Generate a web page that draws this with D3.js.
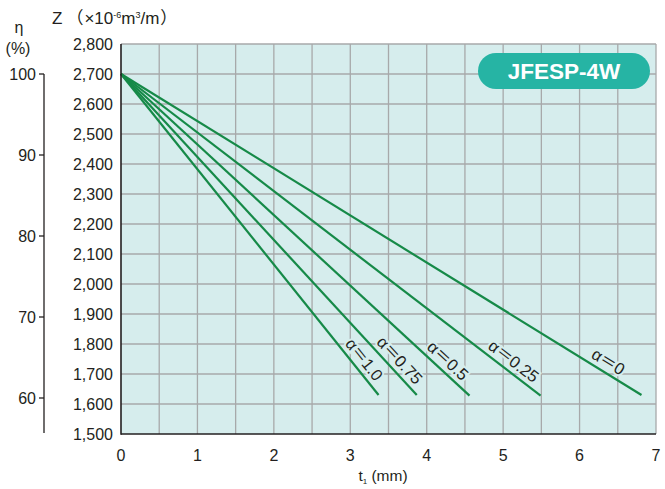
<!DOCTYPE html>
<html>
<head>
<meta charset="utf-8">
<script src="https://cdn.jsdelivr.net/npm/d3@7"></script>
<style>
  body { margin: 0; background: #fff; }
  text { font-family: "Liberation Sans", Arial, "Noto Sans CJK JP", sans-serif; fill: #231f20; }
</style>
</head>
<body>
<div id="chart"></div>
<script>
// curve data
const alphaLabels = ['α＝0', 'α＝0.25', 'α＝0.5', 'α＝0.75', 'α＝1.0'];
const tStart = [0, 0, 0, 0, 0];
const zStart = [2700, 2700, 2700, 2700, 2700];
const tEnd = [6.81, 5.49, 4.56, 3.87, 3.37];
const zEnd = [1630, 1628, 1628, 1630, 1630];
const labelT = [6.3, 5.05, 4.18, 3.54, 3.07];

const zTicks = d3.range(1500, 2801, 100);
const tTicks = [0, 1, 2, 3, 4, 5, 6, 7];
const etaTicks = [60, 70, 80, 90, 100];
const modelName = 'JFESP-4W';

const width = 665;
const height = 489;
const green = '#168a48';
const bg = '#d6eded';

const svg = d3.select('#chart')
  .append('svg')
  .attr('width', width)
  .attr('height', height);

const x = d3.scaleLinear().domain([0, 7]).range([121, 656]);
const y = d3.scaleLinear().domain([1500, 2800]).range([434, 44]);
// eta axis: 100% corresponds to Z = 2700
const yEta = d3.scaleLinear().domain([1500 / 27, 100]).range([434, y(2700)]);

// plot background
svg.append('rect')
  .attr('x', x(0))
  .attr('y', y(2800))
  .attr('width', x(7) - x(0))
  .attr('height', y(1500) - y(2800))
  .attr('fill', bg);

// grid
svg.append('g')
  .selectAll('line')
  .data(d3.range(0.5, 7.01, 0.5))
  .enter()
  .append('line')
  .attr('x1', d => x(d))
  .attr('x2', d => x(d))
  .attr('y1', y(2800))
  .attr('y2', y(1500))
  .attr('stroke', '#a7a9aa')
  .attr('stroke-width', 1.3);

svg.append('g')
  .selectAll('line')
  .data(zTicks.slice(1))
  .enter()
  .append('line')
  .attr('x1', x(0))
  .attr('x2', x(7))
  .attr('y1', d => y(d))
  .attr('y2', d => y(d))
  .attr('stroke', '#a7a9aa')
  .attr('stroke-width', 1.3);

// badge
const badge = svg.append('g');
badge.append('rect')
  .attr('x', 478)
  .attr('y', 53)
  .attr('width', 172)
  .attr('height', 36)
  .attr('rx', 18)
  .attr('fill', '#26b4a4');
badge.append('text')
  .attr('x', 564)
  .attr('y', 79)
  .attr('text-anchor', 'middle')
  .style('fill', '#fff')
  .style('font-weight', 'bold')
  .style('font-size', '22.5px')
  .text(modelName);

// lines
const lineGen = d3.line().x(d => x(d[0])).y(d => y(d[1]));
svg.append('g')
  .selectAll('path')
  .data(alphaLabels.map((a, i) => [[tStart[i], zStart[i]], [tEnd[i], zEnd[i]]]))
  .enter()
  .append('path')
  .attr('d', lineGen)
  .attr('fill', 'none')
  .attr('stroke', green)
  .attr('stroke-width', 2.2);

// rotated curve labels
alphaLabels.forEach((label, i) => {
  const x0 = x(tStart[i]);
  const y0 = y(zStart[i]);
  const x1 = x(tEnd[i]);
  const y1 = y(zEnd[i]);
  const ang = Math.atan2(y1 - y0, x1 - x0);
  const f = labelT[i] / tEnd[i];
  const px = x0 + (x1 - x0) * f;
  const py = y0 + (y1 - y0) * f;
  // shift to the upper-right side of the line
  const off = 11;
  const cx = px + Math.sin(ang) * off;
  const cy = py - Math.cos(ang) * off;
  svg.append('text')
    .attr('transform', `translate(${cx},${cy}) rotate(${ang * 180 / Math.PI})`)
    .attr('text-anchor', 'middle')
    .attr('dy', '0.35em')
    .style('font-size', '16.5px')
    .style('stroke', bg)
    .style('stroke-width', 4)
    .style('paint-order', 'stroke')
    .text(label);
});

// axes frame
svg.append('line')
  .attr('x1', x(0)).attr('x2', x(0))
  .attr('y1', y(2800)).attr('y2', y(1500) + 0.7)
  .attr('stroke', '#231f20').attr('stroke-width', 1.6);
svg.append('line')
  .attr('x1', x(0)).attr('x2', x(7))
  .attr('y1', y(1500)).attr('y2', y(1500))
  .attr('stroke', '#231f20').attr('stroke-width', 1.6);

// Z tick labels
svg.append('g')
  .selectAll('text')
  .data(zTicks)
  .enter()
  .append('text')
  .attr('x', 113)
  .attr('y', d => y(d))
  .attr('dy', '0.36em')
  .attr('text-anchor', 'end')
  .style('font-size', '16px')
  .text(d => d3.format(',')(d));

// t tick labels
svg.append('g')
  .selectAll('text')
  .data(tTicks)
  .enter()
  .append('text')
  .attr('x', d => x(d))
  .attr('y', 461)
  .attr('text-anchor', 'middle')
  .style('font-size', '16px')
  .text(d => d);

// eta axis
svg.append('line')
  .attr('x1', 44).attr('x2', 44)
  .attr('y1', yEta(100)).attr('y2', 433)
  .attr('stroke', '#231f20').attr('stroke-width', 1.3);
svg.append('g')
  .selectAll('line')
  .data(etaTicks)
  .enter()
  .append('line')
  .attr('x1', 39).attr('x2', 44)
  .attr('y1', d => yEta(d)).attr('y2', d => yEta(d))
  .attr('stroke', '#231f20').attr('stroke-width', 1.3);
svg.append('g')
  .selectAll('text')
  .data(etaTicks)
  .enter()
  .append('text')
  .attr('x', 36)
  .attr('y', d => yEta(d))
  .attr('dy', '0.36em')
  .attr('text-anchor', 'end')
  .style('font-size', '16px')
  .text(d => d);

// axis titles
const zTitle = svg.append('text')
  .attr('x', 52)
  .attr('y', 24)
  .style('font-size', '17px');
zTitle.append('tspan').text('Z');
zTitle.append('tspan').attr('dx', 4).text('（');
zTitle.append('tspan').attr('dx', 1).text('×10');
zTitle.append('tspan').attr('dy', -6).style('font-size', '9px').text('-6');
zTitle.append('tspan').attr('dy', 6).text('m');
zTitle.append('tspan').attr('dy', -6).style('font-size', '9px').text('3');
zTitle.append('tspan').attr('dy', 6).text('/m');
zTitle.append('tspan').attr('dx', 1).text('）');

svg.append('text')
  .attr('x', 19).attr('y', 33)
  .attr('text-anchor', 'middle')
  .style('font-size', '16px')
  .text('η');
svg.append('text')
  .attr('x', 18).attr('y', 54)
  .attr('text-anchor', 'middle')
  .style('font-size', '16px')
  .text('(%)');

const tTitle = svg.append('text')
  .attr('x', 383)
  .attr('y', 481)
  .attr('text-anchor', 'middle')
  .style('font-size', '15.5px');
tTitle.append('tspan').text('t');
tTitle.append('tspan').attr('dy', 3).style('font-size', '8px').text('1');
tTitle.append('tspan').attr('dy', -3).text(' (mm)');
</script>
</body>
</html>
